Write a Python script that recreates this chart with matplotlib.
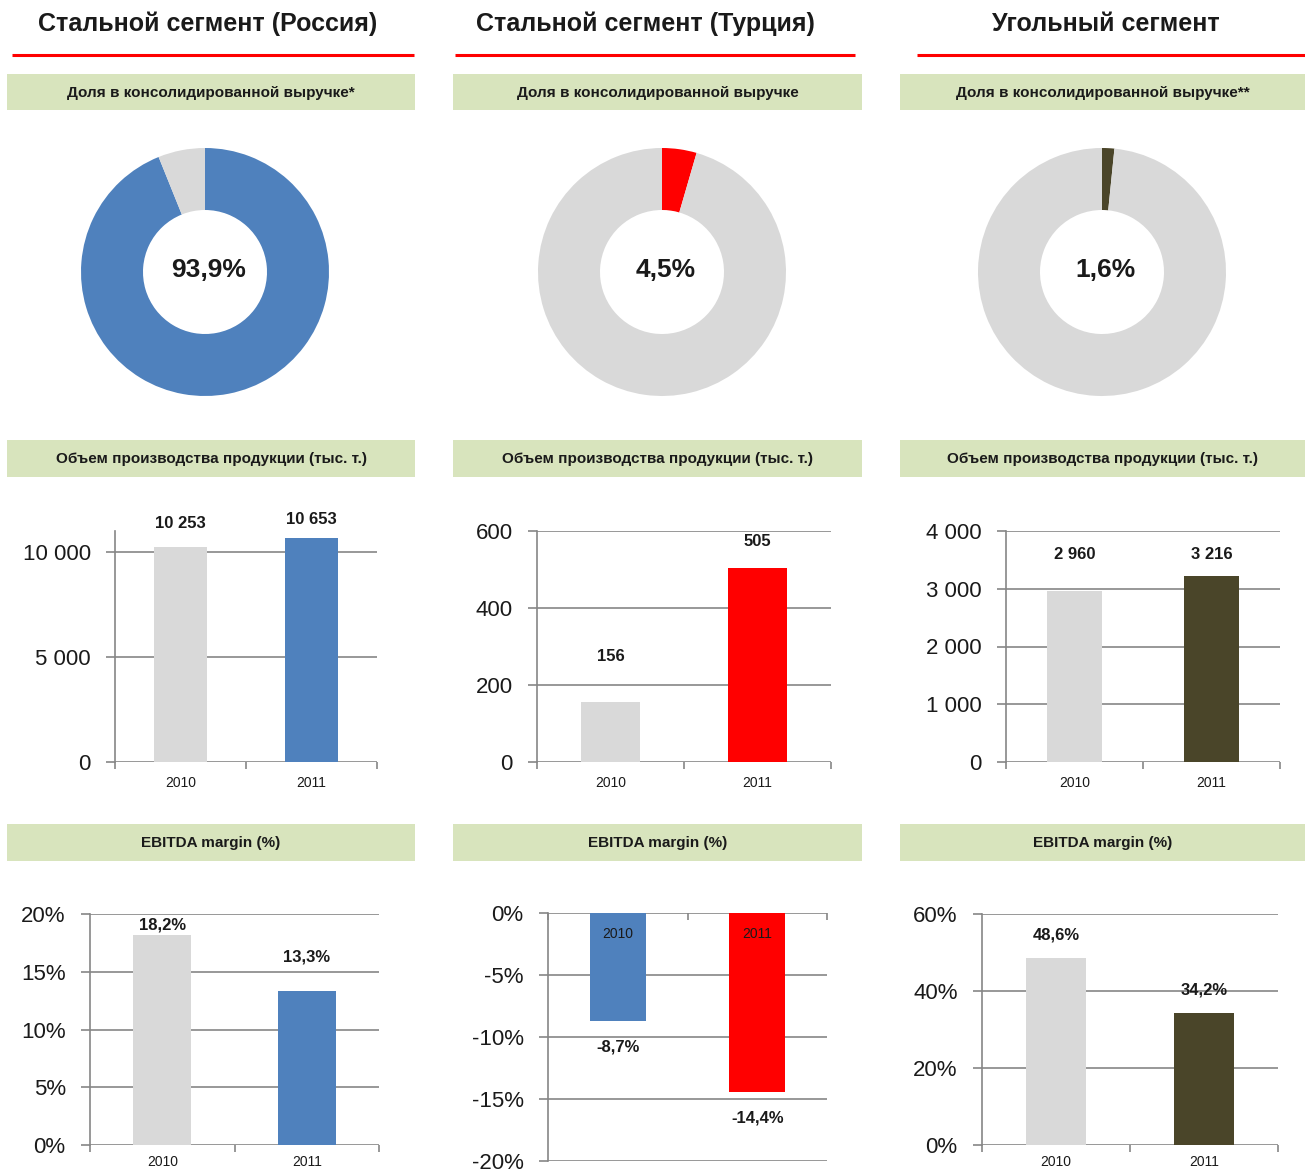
import numpy as np
import matplotlib
matplotlib.use("Agg")
import matplotlib.pyplot as plt
from matplotlib.patches import Rectangle
from matplotlib.ticker import FuncFormatter

plt.rcParams["font.family"] = ["Liberation Sans", "DejaVu Sans"]

# ---- data
segments = ["Стальной сегмент (Россия)", "Стальной сегмент (Турция)", "Угольный сегмент"]
share_titles = ["Доля в консолидированной выручке*",
                "Доля в консолидированной выручке",
                "Доля в консолидированной выручке**"]
share_pct = [93.9, 4.5, 1.6]
output_title = "Объем производства продукции (тыс. т.)"
margin_title = "EBITDA margin (%)"
years = ["2010", "2011"]
output_kt = [[10253, 10653], [156, 505], [2960, 3216]]
ebitda_margin = [[18.2, 13.3], [-8.7, -14.4], [48.6, 34.2]]

# ---- style
W, H = 1305, 1173
GREY = "#d9d9d9"
BLUE = "#4f81bd"
RED = "#ff0000"
OLIVE = "#4a4529"
GREEN_BOX = "#d8e4bd"
GRID = "#868686"
TXT = "#1a1a1a"
seg_colors = [BLUE, RED, OLIVE]

fig = plt.figure(figsize=(W / 100, H / 100), dpi=100)

bg = fig.add_axes([0, 0, 1, 1], zorder=-1)
bg.set_xlim(0, W)
bg.set_ylim(H, 0)
bg.axis("off")


def px_axes(x0, y0, x1, y1):
    return fig.add_axes([x0 / W, 1 - y1 / H, (x1 - x0) / W, (y1 - y0) / H])


def fmt_int(v, pos=None):
    return f"{v:,.0f}".replace(",", " ")


def fmt_pct(v, pos=None):
    return f"{v:.0f}%"


def fmt_pct1(v):
    return f"{v:.1f}%".replace(".", ",")


# column geometry (pixels)
col_box = [(7, 415), (453, 862), (900, 1305)]
col_line = [(12, 414), (455, 855), (917, 1305)]
col_title_x = [208, 645, 1106]
donut_cx = [205, 662, 1102]

for i in range(3):
    bg.text(col_title_x[i], 24, segments[i], ha="center", va="center",
            fontsize=18, fontweight="bold", color=TXT)
    bg.plot(col_line[i], [55, 55], color=RED, lw=2.2, solid_capstyle="butt")
    x0, x1 = col_box[i]
    for (y0, y1), label in zip([(74, 110), (440, 477), (824, 861)],
                               [share_titles[i], output_title, margin_title]):
        bg.add_patch(Rectangle((x0, y0), x1 - x0, y1 - y0, color=GREEN_BOX, lw=0))
        bg.text((x0 + x1) / 2, (y0 + y1) / 2 + 1, label, ha="center", va="center",
                fontsize=11, fontweight="bold", color=TXT)

# ---- donuts
for i in range(3):
    cx, cy, r = donut_cx[i], 272, 124
    ax = px_axes(cx - r, cy - r, cx + r, cy + r)
    ax.pie([share_pct[i], 100 - share_pct[i]], colors=[seg_colors[i], GREY],
           startangle=90, counterclock=False, radius=1.0,
           wedgeprops=dict(width=0.5, linewidth=0))
    ax.set_xlim(-1, 1)
    ax.set_ylim(-1, 1)
    ax.set_aspect("equal")
    ax.axis("off")
    ax.text(0.03, 0.02, fmt_pct1(share_pct[i]), ha="center", va="center",
            fontsize=19, fontweight="bold", color=TXT)


def bar_panel(box, vals, colors, ylim, yticks, tick_fmt, val_fmt, offs_px,
              negative=False, xpad=10):
    ax = px_axes(*box)
    x = np.arange(len(vals))
    ax.bar(x, vals, width=0.4, color=colors, zorder=3)
    ax.set_xlim(-0.5, len(vals) - 0.5)
    ax.set_ylim(*ylim)
    ax.set_yticks(yticks)
    ax.yaxis.set_major_formatter(FuncFormatter(tick_fmt))
    ax.grid(axis="y", color=GRID, lw=1.2, zorder=0)
    ax.set_axisbelow(True)
    for s in ["top", "right", "bottom"]:
        ax.spines[s].set_visible(False)
    ax.spines["left"].set_color(GRID)
    ax.spines["left"].set_linewidth(1.2)
    ax.tick_params(axis="y", direction="out", length=6.5, width=1.2, color=GRID,
                   pad=11, labelsize=16, labelcolor=TXT)
    # category boundary ticks
    ax.set_xticks(np.arange(-0.5, len(vals), 1.0))
    ax.set_xticklabels([])
    if negative:
        ax.xaxis.set_ticks_position("top")
        ax.tick_params(axis="x", which="major", direction="in", length=5, width=1.2, color=GRID)
        for xi, yr in zip(x, years):
            ax.annotate(yr, (xi, 0), xytext=(0, -15), textcoords="offset points",
                        ha="center", va="center", fontsize=10, color=TXT)
    else:
        ax.tick_params(axis="x", which="major", direction="out", length=5, width=1.2, color=GRID)
        ax.set_xticks(x, minor=True)
        ax.set_xticklabels(years, minor=True)
        ax.tick_params(axis="x", which="minor", length=0, pad=xpad, labelsize=10, labelcolor=TXT)
    for xi, v, o in zip(x, vals, offs_px):
        ax.annotate(val_fmt(v), (xi, v), xytext=(0, o * 0.72), textcoords="offset points",
                    ha="center", va="center", fontsize=12, fontweight="bold", color=TXT)
    return ax


# ---- production volumes
bar_panel((115, 531, 377, 762), output_kt[0], [GREY, BLUE], (0, 11000), [0, 5000, 10000],
          fmt_int, fmt_int, [23, 19])
bar_panel((537, 531, 831, 762), output_kt[1], [GREY, RED], (0, 600), [0, 200, 400, 600],
          fmt_int, fmt_int, [45, 26])
bar_panel((1006, 531, 1280, 762), output_kt[2], [GREY, OLIVE], (0, 4000), [0, 1000, 2000, 3000, 4000],
          fmt_int, fmt_int, [37, 22])

# ---- EBITDA margins
bar_panel((90, 914, 379, 1145), ebitda_margin[0], [GREY, BLUE], (0, 20), [0, 5, 10, 15, 20],
          fmt_pct, fmt_pct1, [10, 34], xpad=7)
bar_panel((548, 913, 827, 1161), ebitda_margin[1], [BLUE, RED], (-20, 0), [-20, -15, -10, -5, 0],
          fmt_pct, fmt_pct1, [-26, -26], negative=True)
bar_panel((982, 914, 1278, 1145), ebitda_margin[2], [GREY, OLIVE], (0, 60), [0, 20, 40, 60],
          fmt_pct, fmt_pct1, [23, 23], xpad=7)

fig.savefig("out.png", dpi=100, facecolor="white")
